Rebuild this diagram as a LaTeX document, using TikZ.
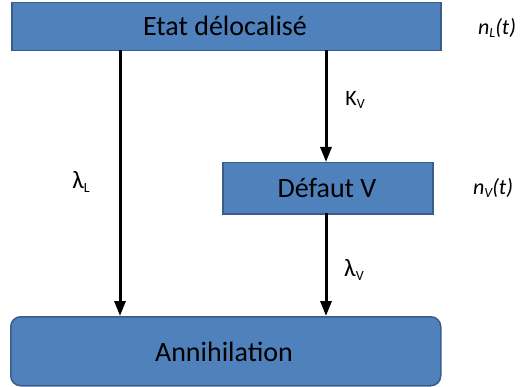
\documentclass[tikz,border=0pt]{standalone}
\usepackage{fontspec}
\setmainfont{Carlito}
\usetikzlibrary{arrows.meta}
\definecolor{boxfill}{HTML}{4F81BD}
\definecolor{boxdraw}{HTML}{385D8A}
\begin{document}
\begin{tikzpicture}[x=1pt,y=-1pt,
  box/.style={draw=boxdraw,fill=boxfill,line width=1.5pt,inner sep=0pt,anchor=north west},
  arr/.style={line width=3pt,-{Triangle[length=15pt,width=11pt]}},
  lbl/.style={font=\fontsize{22}{26}\selectfont,inner sep=0pt},
  boxtext/.style={font=\fontsize{28}{32}\selectfont,inner sep=0pt}]
\useasboundingbox (0,0) rectangle (521,387);
\node[box,minimum width=429pt,minimum height=48pt] (top) at (11,2) {};
\node[box,minimum width=210pt,minimum height=51pt] (def) at (222,162) {};
\node[box,rounded corners=10pt,minimum width=430pt,minimum height=69pt] (ann) at (10,316) {};
\node[boxtext] (t1) at (225,26) {Etat délocalisé};
\node[boxtext] (t2) at (327,188) {Défaut V};
\node[boxtext] (t3) at (224,352) {Annihilation};
\coordinate (a1) at (120,50);
\coordinate (a1e) at (120,316);
\coordinate (b1) at (326,50);
\coordinate (b1e) at (326,162);
\coordinate (c1) at (326,213);
\coordinate (c1e) at (326,316);
\draw[arr] (a1) -- (a1e);
\draw[arr] (b1) -- (b1e);
\draw[arr] (c1) -- (c1e);
\node[lbl] (lL) at (81,182) {{\fontsize{25}{28}\selectfont λ}\raisebox{-0.4ex}{\fontsize{14}{16}\selectfont L}};
\node[lbl] (kV) at (355,100) {K\raisebox{-0.35ex}{\fontsize{14}{16}\selectfont V}};
\node[lbl] (lV) at (354,270) {{\fontsize{25}{28}\selectfont λ}\raisebox{-0.4ex}{\fontsize{14}{16}\selectfont V}};
\node[lbl,font=\fontsize{22}{26}\selectfont\itshape] (nL) at (497,28) {n\raisebox{-0.35ex}{\fontsize{14}{16}\selectfont L}(t)};
\node[lbl,font=\fontsize{22}{26}\selectfont\itshape] (nV) at (493,188) {n\raisebox{-0.35ex}{\fontsize{14}{16}\selectfont V}(t)};
\end{tikzpicture}
\end{document}
